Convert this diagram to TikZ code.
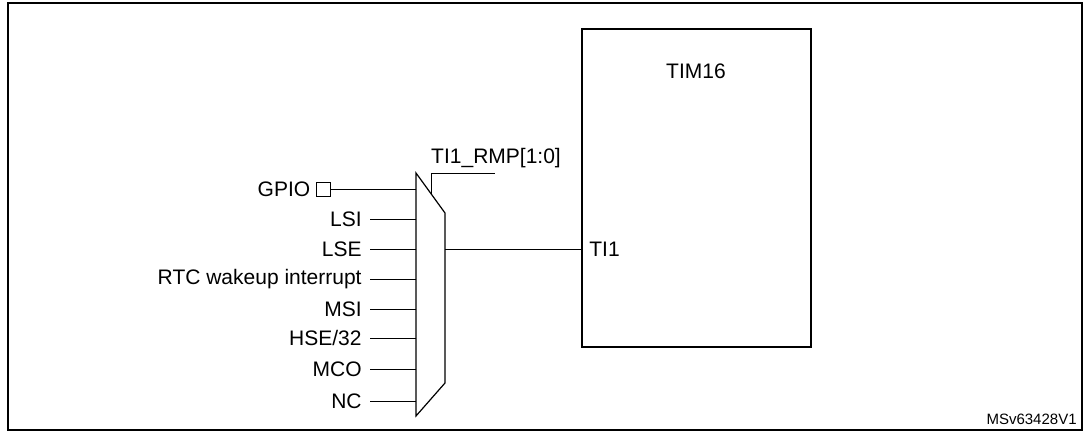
\documentclass[tikz,border=0pt]{standalone}
\usepackage{fontspec}
\setmainfont{Liberation Sans}
\usetikzlibrary{positioning}

\begin{document}
\begin{tikzpicture}[x=1pt, y=-1pt, line width=0.8pt,
    lbl/.style={inner sep=2pt, font=\fontsize{21}{24}\selectfont},
    wire/.style={line width=0.8pt}]
    % Frame
    \useasboundingbox (0,0) rectangle (1085,435);
    \draw[line width=1.2pt] (8,3) rectangle (1082,430);

    % Multiplexer
    \draw[line width=1.2pt] (416,173) -- (445,213) -- (445,383) -- (416,416) -- cycle;
    \coordinate (muxout) at (445,249);
    \coordinate (sel) at (431,194);

    % Timer block
    \draw[line width=1.2pt] (582,29) rectangle (811,347);
    \node[lbl] (tim) at (696,71) {TIM16};
    \node[lbl, anchor=west] (ti1) at (587,249) {TI1};
    \coordinate (tin) at (582,249);
    \draw[wire] (muxout) -- (tin);

    % Select line
    \coordinate (selk) at (431,173);
    \coordinate (selend) at (495,173);
    \draw[wire] (sel) -- (selk) -- (selend);
    \node[lbl, anchor=south] (rmp) at (496,170) {TI1\_RMP[1:0]};

    % GPIO input
    \node[draw, line width=0.7pt, minimum size=14pt, inner sep=0pt] (pad) at (323,189) {};
    \node[lbl, anchor=east, left=3pt of pad] (gpio) {GPIO};
    \coordinate (gin) at (416,189);
    \draw[wire] (pad.east) -- (gin);

    % Other inputs
    \foreach \name/\txt/\y in {lsi/LSI/219, lse/LSE/249, rtc/RTC wakeup interrupt/279,
                               msi/MSI/309, hse/HSE\slash 32/338, mco/MCO/369, nc/NC/401} {
        \node[lbl, anchor=east] (\name) at (364,\y) {\txt};
        \coordinate (\name in) at (416,\y);
        \draw[wire] (370,\y) -- (\name in);
    }

    \node[font=\fontsize{15}{17}\selectfont, anchor=east, inner sep=2pt] (ref) at (1079,419) {MSv63428V1};
\end{tikzpicture}
\end{document}
